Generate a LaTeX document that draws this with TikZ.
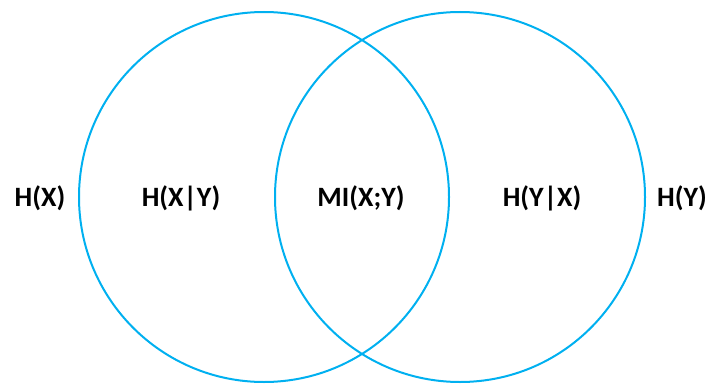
\documentclass[tikz,border=0pt]{standalone}
\usepackage{fontspec}
\setmainfont{Carlito}
\definecolor{setblue}{RGB}{0,176,240}
\begin{document}
\begin{tikzpicture}[x=1pt,y=-1pt,
  setcircle/.style={draw=setblue,line width=2pt},
  lbl/.style={font=\fontsize{28}{32}\selectfont\bfseries,inner sep=0pt,text=black}]
\useasboundingbox (0,0) rectangle (709,385);
% the two entropy sets
\draw[setcircle] (264,197) circle[radius=185];
\draw[setcircle] (460,197) circle[radius=185];
% region labels
\node[lbl] (hx)  at (40,198)  {H(X)};
\node[lbl] (hxy) at (181,198) {H(X|Y)};
\node[lbl] (mi)  at (361,198) {MI(X;Y)};
\node[lbl] (hyx) at (542,198) {H(Y|X)};
\node[lbl] (hy)  at (682,198) {H(Y)};
\end{tikzpicture}
\end{document}
